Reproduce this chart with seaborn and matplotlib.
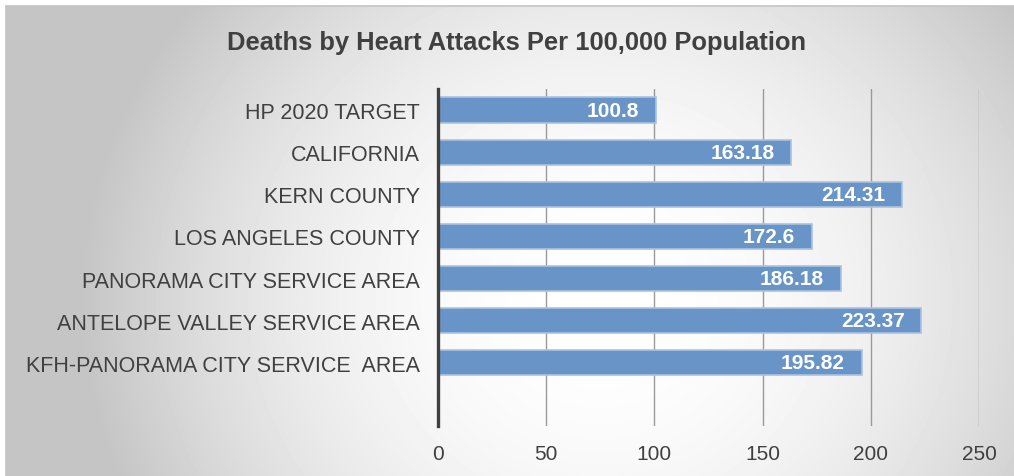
import matplotlib.pyplot as plt
import numpy as np
import seaborn as sns

# data
categories = [
    "HP 2020 TARGET",
    "CALIFORNIA",
    "KERN COUNTY",
    "LOS ANGELES COUNTY",
    "PANORAMA CITY SERVICE AREA",
    "ANTELOPE VALLEY SERVICE AREA",
    "KFH-PANORAMA CITY SERVICE  AREA",
]
values = [100.8, 163.18, 214.31, 172.6, 186.18, 223.37, 195.82]
value_labels = ["100.8", "163.18", "214.31", "172.6", "186.18", "223.37", "195.82"]
x_ticks = [0, 50, 100, 150, 200, 250]

sns.set_theme(style="white")
plt.rcParams['font.family'] = ['Liberation Sans', 'DejaVu Sans']

W, H = 1014, 477
fig = plt.figure(figsize=(W / 100, H / 100), dpi=100)
fig.patch.set_facecolor('white')

# radial grey-to-white chart background, framed at top/left
bg = fig.add_axes([0, 0, 1, 1], zorder=-10)
yy, xx = np.mgrid[0:H, 0:W]
d = np.sqrt(((xx - 600) / 520.0) ** 2 + ((yy - 300) / 480.0) ** 2)
shade = 1.0 - 0.23 * np.clip(d, 0, 1) ** 2
shade[:7, :] = 1.0
shade[:, :6] = 1.0
bg.imshow(shade, cmap='gray', vmin=0, vmax=1, aspect='auto', extent=[0, W, H, 0],
          interpolation='nearest')
bg.plot([6, W], [7, 7], color='#c4c4c4', lw=1.2)
bg.plot([6, 6], [7, H], color='#c4c4c4', lw=1.2)
bg.set_xlim(0, W)
bg.set_ylim(H, 0)
bg.axis('off')

ax = fig.add_axes([438 / W, 1 - 427 / H, (979 - 438) / W, (427 - 90) / H])
ax.patch.set_alpha(0)

sns.barplot(x=values, y=categories, orient='h', color='#6894c7', saturation=1,
            width=0.6, edgecolor='#a9c2e2', linewidth=1.2, ax=ax, zorder=3)

for p, lab in zip(ax.patches, value_labels):
    ax.annotate(lab, (p.get_x() + p.get_width(), p.get_y() + p.get_height() / 2),
                xytext=(-12, 0), textcoords='offset points', ha='right', va='center',
                color='white', fontsize=15, fontweight='bold', zorder=5)

ax.set_xlim(0, 250)
ax.set_ylim(7.5, -0.5)
ax.set_xticks(x_ticks)
ax.set_xticklabels([str(t) for t in x_ticks])
ax.xaxis.grid(True, color='#9a9a9a', lw=1.0, zorder=0)
ax.set_axisbelow(True)
ax.tick_params(axis='both', length=0, colors='#404040')
ax.tick_params(axis='y', pad=13, labelsize=15.5)
ax.tick_params(axis='x', pad=13, labelsize=15)

for s in ['top', 'right', 'bottom']:
    ax.spines[s].set_visible(False)
ax.spines['left'].set_color('#404040')
ax.spines['left'].set_linewidth(2.4)
ax.spines['left'].set_zorder(6)
ax.set_xlabel('')
ax.set_ylabel('')

fig.text(517 / W, 1 - 43 / H, "Deaths by Heart Attacks Per 100,000 Population",
         ha='center', va='center', fontsize=18.4, fontweight='bold', color='#404040')

fig.savefig('out.png', dpi=100)
